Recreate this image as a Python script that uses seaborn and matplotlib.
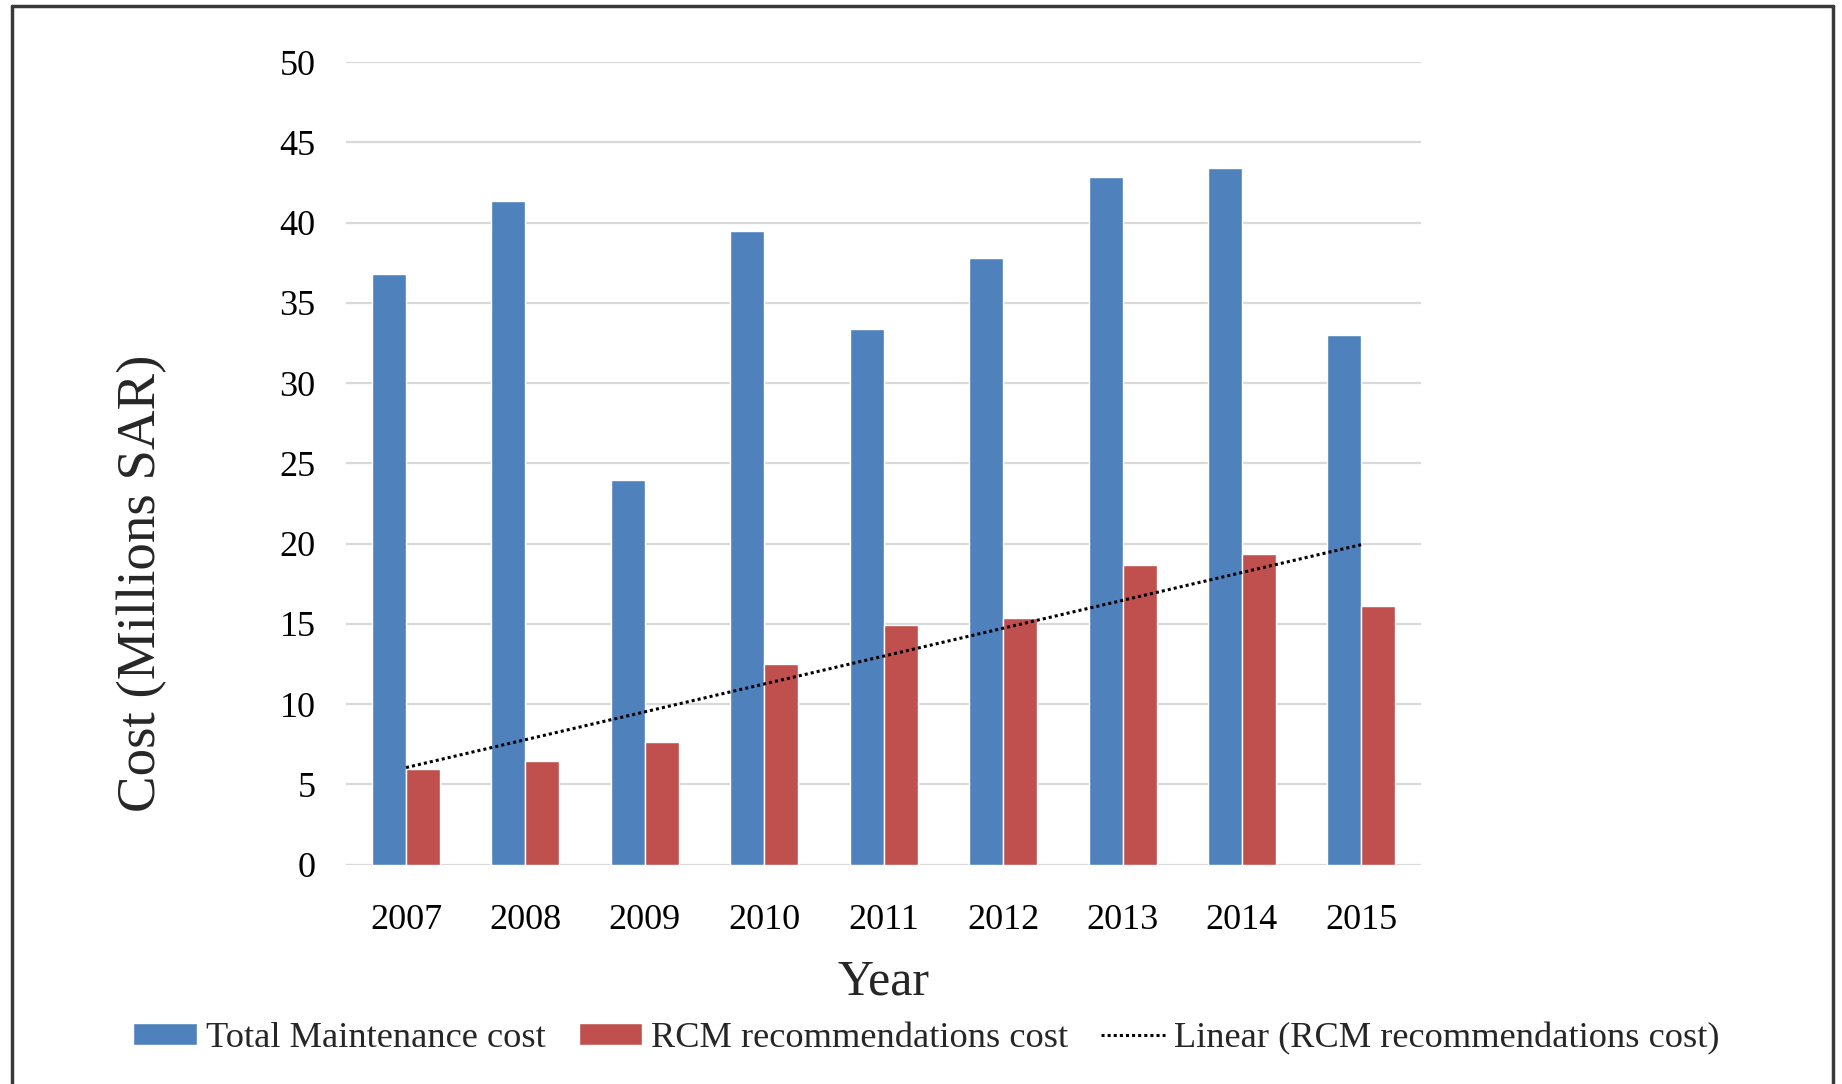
import numpy as np
import pandas as pd
import matplotlib
matplotlib.use("Agg")
import matplotlib.pyplot as plt
from matplotlib.lines import Line2D
import seaborn as sns

# Annual costs in millions of SAR
years = ["2007", "2008", "2009", "2010", "2011", "2012", "2013", "2014", "2015"]
total_maintenance = [36.8, 41.35, 23.95, 39.45, 33.35, 37.8, 42.85, 43.4, 33.0]
rcm_recommendations = [5.95, 6.45, 7.65, 12.5, 14.95, 15.35, 18.65, 19.35, 16.1]
series_names = ["Total Maintenance cost", "RCM recommendations cost"]
trend_name = "Linear (RCM recommendations cost)"

BLUE = "#4F81BD"
RED = "#C0504D"
GRID = "#D9D9D9"

df = pd.DataFrame({
    "Year": years * 2,
    "Cost": total_maintenance + rcm_recommendations,
    "Series": [series_names[0]] * len(years) + [series_names[1]] * len(years),
})

sns.set_theme(style="white")
plt.rcParams["font.family"] = ["Liberation Serif", "DejaVu Serif"]

fig = plt.figure(figsize=(18.42, 10.84), dpi=100)
ax = fig.add_axes([0.188, 0.2023, 0.5835, 0.7405])

sns.barplot(data=df, x="Year", y="Cost", hue="Series", palette=[BLUE, RED],
            width=0.57, saturation=1, dodge=True, ax=ax, legend=True)

# Least-squares trend of the RCM series across the categorical positions
xpos = np.arange(len(years))
slope, intercept = np.polyfit(xpos, rcm_recommendations, 1)
trend_line, = ax.plot(xpos, slope * xpos + intercept, color="black",
                      linestyle=(0, (1, 1)), linewidth=2.2, zorder=5)

ax.set_xlim(-0.5, len(years) - 0.5)
ax.set_ylim(0, 50)
ax.set_yticks(np.arange(0, 51, 5))
ax.yaxis.grid(True, color=GRID, linewidth=1.6)
ax.set_axisbelow(True)
for side in ["left", "right", "top", "bottom"]:
    ax.spines[side].set_visible(False)
ax.tick_params(axis="both", length=0, labelsize=26, colors="black")
ax.tick_params(axis="y", pad=22)
ax.tick_params(axis="x", pad=28)

ax.set_xlabel("Year", fontsize=36, labelpad=16)
ax.set_ylabel("Cost (Millions SAR)", fontsize=39.5, va="center")
ax.yaxis.set_label_coords(-0.19, 0.351)

handles, labels = ax.get_legend_handles_labels()
ax.get_legend().remove()
handles = list(handles) + [trend_line]
labels = list(labels) + [trend_name]
fig.legend(handles, labels, loc="center", bbox_to_anchor=(0.503, 0.042),
           ncol=3, frameon=False, fontsize=26.2, handlelength=1.75,
           handleheight=0.55, handletextpad=0.25, columnspacing=0.9)

# Outer frame (left, top and right edges)
frame_kw = dict(color="#3a3a3a", linewidth=2.5, transform=fig.transFigure)
fig.add_artist(Line2D([0.0065, 0.0065], [0.0, 0.9945], **frame_kw))
fig.add_artist(Line2D([0.0065, 0.9952], [0.9945, 0.9945], **frame_kw))
fig.add_artist(Line2D([0.9952, 0.9952], [0.0, 0.9945], **frame_kw))

fig.savefig("out.png", dpi=100)
